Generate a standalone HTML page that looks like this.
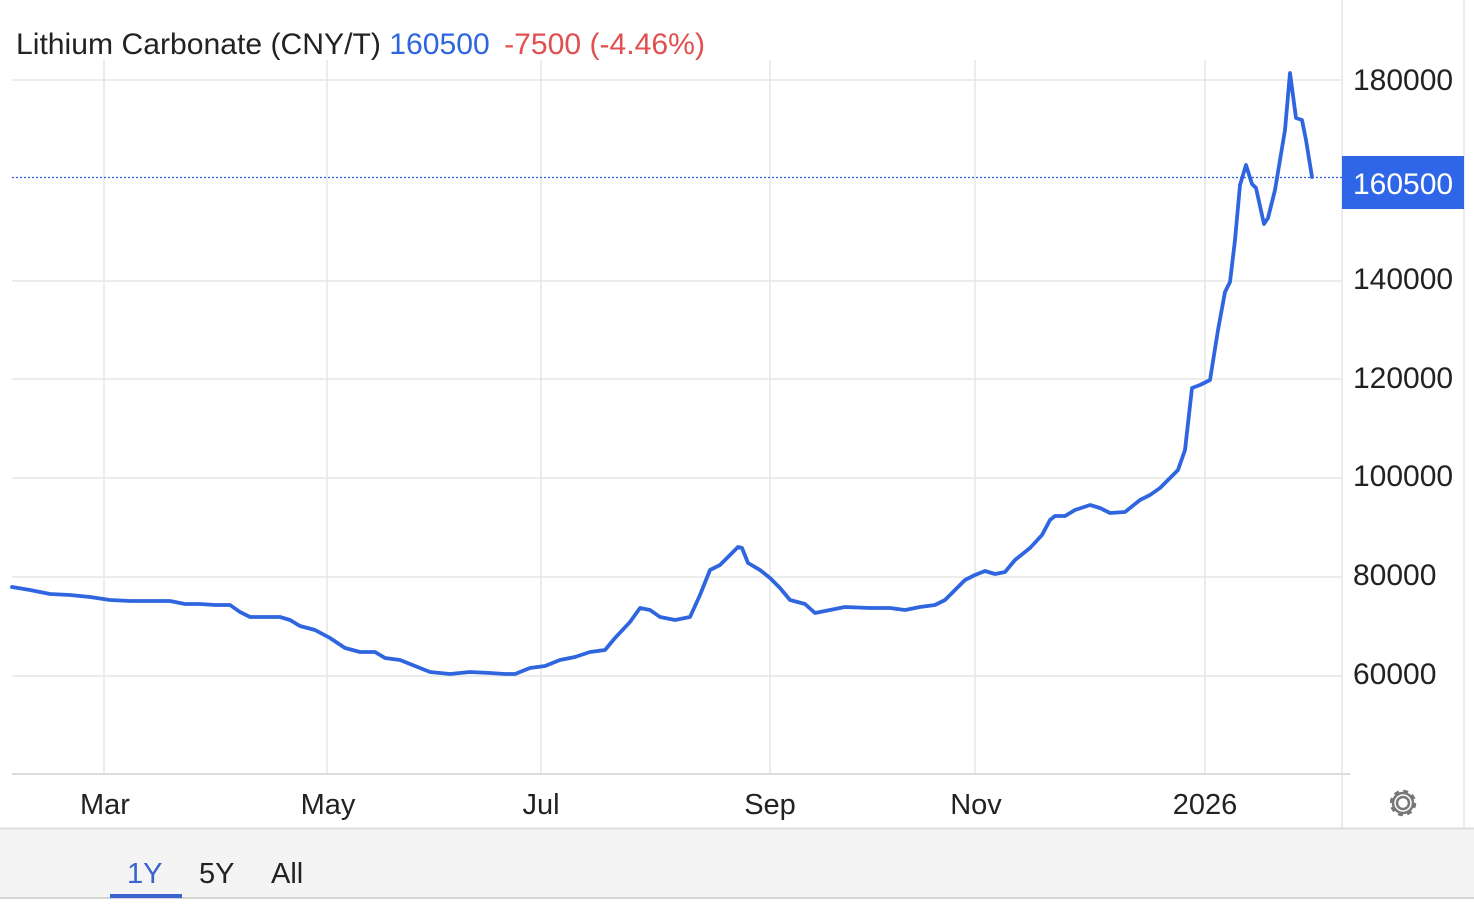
<!DOCTYPE html>
<html><head><meta charset="utf-8"><style>
html,body{margin:0;padding:0;background:#fff;width:1474px;height:910px;overflow:hidden;font-family:"Liberation Sans",sans-serif}
</style></head><body>
<svg width="1474" height="910" xmlns="http://www.w3.org/2000/svg" style="position:absolute;left:0;top:0">
<rect x="0" y="828" width="1474" height="70" fill="#f4f4f4"/>
<line x1="0" y1="828.5" x2="1474" y2="828.5" stroke="#dcdcdc" stroke-width="2"/>
<line x1="0" y1="898" x2="1474" y2="898" stroke="#d4d4d4" stroke-width="2"/>
<g stroke="#e6e6e6" stroke-width="1.5">
<line x1="12" y1="80" x2="1342" y2="80"/>
<line x1="12" y1="281" x2="1342" y2="281"/>
<line x1="12" y1="379" x2="1342" y2="379"/>
<line x1="12" y1="478" x2="1342" y2="478"/>
<line x1="12" y1="577" x2="1342" y2="577"/>
<line x1="12" y1="676" x2="1342" y2="676"/>
<line x1="104" y1="60" x2="104" y2="774"/>
<line x1="327" y1="60" x2="327" y2="774"/>
<line x1="541" y1="60" x2="541" y2="774"/>
<line x1="770" y1="60" x2="770" y2="774"/>
<line x1="975" y1="60" x2="975" y2="774"/>
<line x1="1205" y1="60" x2="1205" y2="774"/>
<line x1="1342" y1="0" x2="1342" y2="828"/>
<line x1="1464" y1="0" x2="1464" y2="828"/>
<line x1="12" y1="774" x2="1350" y2="774" stroke="#dcdcdc" stroke-width="2"/>
</g>
<line x1="12" y1="177.5" x2="1342" y2="177.5" stroke="#2f5fd6" stroke-width="1.3" stroke-dasharray="2,2"/>
<polyline fill="none" stroke="#2f66e0" stroke-width="3.8" stroke-linejoin="round" stroke-linecap="round" points="12,587 30,590 50,594 70,595 90,597 110,600 130,601 150,601 170,601 185,604 200,604 215,605 230,605 240,612 250,617 260,617 280,617 290,620 300,626 315,630 330,638 345,648 360,652 375,652 385,658 400,660 415,666 430,672 450,674 470,672 490,673 505,674 515,674 530,668 545,666 560,660 575,657 590,652 605,650 615,638 630,622 640,608 650,610 660,617 675,620 690,617 700,595 710,570 720,565 730,555 738,547 742,548 748,563 760,570 770,578 780,588 790,600 805,604 815,613 830,610 845,607 870,608 890,608 905,610 920,607 935,605 945,600 955,590 965,580 975,575 985,571 995,574 1005,572 1015,560 1030,548 1042,535 1050,520 1055,516 1065,516 1075,510 1090,505 1100,508 1110,513 1125,512 1140,500 1150,495 1160,488 1170,478 1178,470 1185,450 1192,388 1200,385 1210,380 1218,330 1225,292 1230,282 1235,240 1240,185 1246,165 1252,184 1256,188 1264,224 1268,218 1275,190 1285,130 1290,73 1296,118 1302,120 1306,140 1312,177"/>
<g font-size="30" fill="#222">
<text x="1353" y="90">180000</text>
<text x="1353" y="289">140000</text>
<text x="1353" y="388">120000</text>
<text x="1353" y="486">100000</text>
<text x="1353" y="585">80000</text>
<text x="1353" y="684">60000</text>
</g>
<rect x="1342" y="156" width="122" height="53" fill="#2f66e8"/>
<text x="1353" y="194" font-size="30" fill="#fff">160500</text>
<g font-size="29" fill="#222" text-anchor="middle">
<text x="105" y="814">Mar</text>
<text x="328" y="814">May</text>
<text x="541" y="814">Jul</text>
<text x="770" y="814">Sep</text>
<text x="976" y="814">Nov</text>
<text x="1205" y="814">2026</text>
</g>
<text x="16" y="54" font-size="29.5" fill="#222" textLength="689" lengthAdjust="spacingAndGlyphs">Lithium Carbonate (CNY/T) <tspan fill="#2f66e0">160500</tspan><tspan fill="#e05050" dx="14">-7500 (-4.46%)</tspan></text>
<g font-size="29">
<text x="127" y="883" fill="#3a63d0">1Y</text>
<text x="199" y="883" fill="#222">5Y</text>
<text x="271" y="883" fill="#222">All</text>
</g>
<rect x="110" y="894" width="72" height="4" fill="#3a63d0"/>
<g transform="translate(1403,803)" fill="none" stroke="#777" stroke-width="2.5">
<circle r="6"/>
<circle r="12" stroke-dasharray="5,4.4"/>
<circle r="10"/>
</g>
</svg>
</body></html>
